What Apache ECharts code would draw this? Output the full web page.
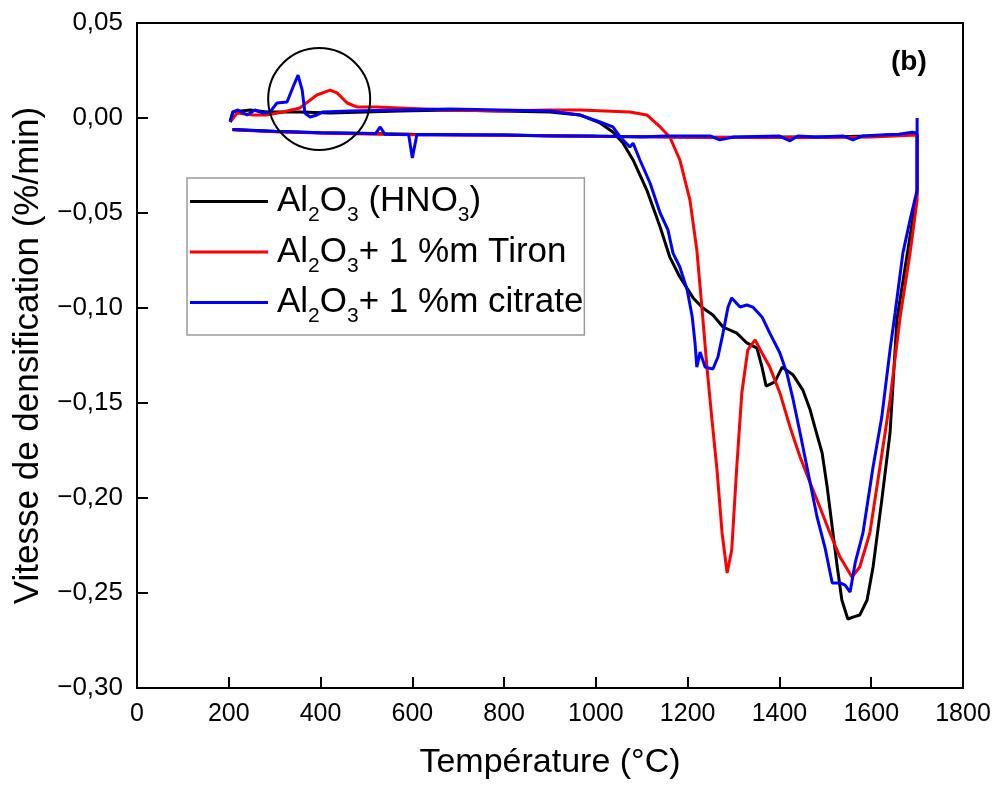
<!DOCTYPE html>
<html>
<head>
<meta charset="utf-8">
<script src="https://cdn.jsdelivr.net/npm/echarts@6/dist/echarts.min.js"></script>
<style>html,body{margin:0;padding:0;background:#fff;}#c{width:999px;height:787px;}</style>
</head>
<body>
<div id="c"></div>
<script>
// ---- Data ----
const xTicks = [0, 200, 400, 600, 800, 1000, 1200, 1400, 1600, 1800];
const yTicks = [0.05, 0.00, -0.05, -0.10, -0.15, -0.20, -0.25, -0.30];

const seriesNames = ['Al2O3 (HNO3)', 'Al2O3+ 1 %m Tiron', 'Al2O3+ 1 %m citrate'];

// Al2O3 (HNO3): heating 200 -> 1700 then cooling 1700 -> 200
const blackT = [203,209,246,283,355,421,573,682,791,900,965,1009,1037,1059,1081,1111,1140,1161,1183,1212,1233,1255,1277,1307,1329,1351,1362,1371,1390,1406,1430,1451,1467,1477,1493,1504,1515,1526,1536,1549,1562,1575,1591,1604,1623,1641,1656,1673,1684,1700,
  1700,1650,1600,1500,1400,1300,1200,1100,1000,900,800,700,600,500,400,300,208];
const blackV = [-0.0016,0.0032,0.0042,0.0032,0.0032,0.0026,0.0037,0.0042,0.0037,0.0032,0.0016,-0.0026,-0.0074,-0.0132,-0.0221,-0.0379,-0.0574,-0.0732,-0.0837,-0.0947,-0.1000,-0.1037,-0.1100,-0.1132,-0.1184,-0.1211,-0.1311,-0.1411,-0.1389,-0.1311,-0.1353,-0.1432,-0.1537,-0.1626,-0.1763,-0.1942,-0.2153,-0.2363,-0.2537,-0.2637,-0.2626,-0.2616,-0.2537,-0.2363,-0.2011,-0.1658,-0.1063,-0.0800,-0.0632,-0.0395,
  -0.0085,-0.0088,-0.0095,-0.0100,-0.0100,-0.0101,-0.0100,-0.0098,-0.0096,-0.0093,-0.0090,-0.0088,-0.0085,-0.0081,-0.0077,-0.0071,-0.0060];

// Al2O3 + 1 %m Tiron
const redT = [203,218,253,283,318,355,392,421,436,458,479,523,573,682,791,900,965,1074,1111,1140,1161,1183,1205,1220,1231,1242,1253,1264,1275,1286,1296,1307,1318,1331,1347,1362,1379,1401,1423,1445,1467,1488,1510,1532,1558,1575,1597,1619,1641,1663,1684,1700,
  1700,1650,1600,1500,1400,1300,1200,1100,1000,900,800,700,600,500,400,300,208];
const redV = [-0.0021,0.0026,0.0016,0.0016,0.0032,0.0053,0.0121,0.0147,0.0132,0.0079,0.0058,0.0058,0.0053,0.0042,0.0037,0.0042,0.0042,0.0032,0.0016,-0.0047,-0.0100,-0.0221,-0.0432,-0.0695,-0.0995,-0.1311,-0.1589,-0.1853,-0.2184,-0.2395,-0.2274,-0.1837,-0.1447,-0.1221,-0.1168,-0.1237,-0.1311,-0.1447,-0.1626,-0.1784,-0.1921,-0.2047,-0.2184,-0.2311,-0.2416,-0.2363,-0.2184,-0.1837,-0.1484,-0.1047,-0.0721,-0.0432,
  -0.0090,-0.0095,-0.0100,-0.0103,-0.0102,-0.0102,-0.0101,-0.0099,-0.0097,-0.0094,-0.0091,-0.0089,-0.0088,-0.0084,-0.0079,-0.0073,-0.0062];

// Al2O3 + 1 %m citrate
const blueT = [203,209,220,240,257,275,290,305,327,340,351,360,366,377,392,405,464,573,682,791,900,965,1009,1037,1053,1074,1081,1096,1118,1140,1157,1168,1183,1199,1210,1216,1220,1227,1238,1255,1266,1277,1288,1296,1314,1329,1342,1362,1379,1401,1416,1430,1445,1467,1482,1499,1515,1532,1543,1554,1565,1582,1604,1623,1641,1652,1669,1686,1700,
  1700,1700,1690,1660,1620,1580,1560,1540,1480,1440,1423,1400,1300,1270,1250,1150,1100,1000,900,800,700,610,600,592,540,530,520,400,300,208];
const blueV = [-0.0021,0.0032,0.0042,0.0016,0.0042,0.0026,0.0032,0.0079,0.0084,0.0163,0.0226,0.0147,0.0026,0.0005,0.0016,0.0032,0.0037,0.0042,0.0047,0.0042,0.0037,0.0016,-0.0021,-0.0047,-0.0100,-0.0153,-0.0132,-0.0221,-0.0342,-0.0500,-0.0589,-0.0711,-0.0784,-0.0905,-0.1047,-0.1184,-0.1311,-0.1232,-0.1311,-0.1321,-0.1258,-0.1132,-0.0995,-0.0947,-0.0995,-0.0984,-0.0995,-0.1047,-0.1132,-0.1237,-0.1342,-0.1484,-0.1658,-0.1921,-0.2100,-0.2258,-0.2447,-0.2447,-0.2458,-0.2495,-0.2342,-0.2184,-0.1837,-0.1574,-0.1221,-0.1026,-0.0711,-0.0521,-0.0379,
  0.0000,-0.0080,-0.0075,-0.0085,-0.0090,-0.0095,-0.0115,-0.0095,-0.0100,-0.0095,-0.0120,-0.0095,-0.0100,-0.0115,-0.0095,-0.0095,-0.0100,-0.0095,-0.0095,-0.0090,-0.0088,-0.0087,-0.0210,-0.0087,-0.0085,-0.0047,-0.0082,-0.0078,-0.0070,-0.0060];

const seriesColors = ['#000000', '#ff0000', '#0000ff'];
const circleCenter = [397, 0.010];  // annotation circle centre, in data units

// ---- Chart ----
const FONT = "'Liberation Sans', Arial, sans-serif";
const richNames = {
  'Al2O3 (HNO3)': '{f|Al}{s|2}{a|O}{s|3}{a| (HNO}{s|3}{a|)}',
  'Al2O3+ 1 %m Tiron': '{f|Al}{s|2}{a|O}{s|3}{a|+ 1 %m Tiron}',
  'Al2O3+ 1 %m citrate': '{f|Al}{s|2}{a|O}{s|3}{a|+ 1 %m citrate}'
};
function fmtY(v) {
  if (Math.abs(v) < 1e-9) return '0,00';
  return v.toFixed(2).replace('.', ',').replace('-', '\u2212');
}
function pairs(T, V) { return T.map((t, i) => [t, V[i]]); }
const dataSets = [pairs(blackT, blackV), pairs(redT, redV), pairs(blueT, blueV)];

const chart = echarts.init(document.getElementById('c'), null, {renderer: 'canvas'});
const option = {
  backgroundColor: '#ffffff',
  animation: false,
  textStyle: {fontFamily: FONT},
  grid: {left: 137, right: 36, top: 23, bottom: 99, show: true, borderColor: '#000', borderWidth: 2, backgroundColor: 'transparent'},
  xAxis: {
    type: 'value', min: xTicks[0], max: xTicks[xTicks.length - 1], interval: 200,
    name: 'Température (°C)', nameLocation: 'middle', nameGap: 58,
    nameTextStyle: {fontSize: 34, color: '#000', fontFamily: FONT},
    axisLine: {show: true, onZero: false, lineStyle: {color: '#000', width: 2}},
    axisTick: {show: true, inside: true, length: 11, lineStyle: {color: '#000', width: 2}},
    axisLabel: {fontSize: 25, color: '#000', margin: 14, fontFamily: FONT, formatter: v => String(v)},
    splitLine: {show: false}
  },
  yAxis: {
    type: 'value', min: yTicks[yTicks.length - 1], max: yTicks[0], interval: 0.05,
    name: 'Vitesse de densification (%/min)', nameLocation: 'middle', nameGap: 88,
    nameTextStyle: {fontSize: 35, color: '#000', fontFamily: FONT},
    axisLine: {show: true, onZero: false, lineStyle: {color: '#000', width: 2}},
    axisTick: {show: true, inside: true, length: 11, lineStyle: {color: '#000', width: 2}},
    axisLabel: {fontSize: 26, color: '#000', margin: 14, fontFamily: FONT, formatter: fmtY},
    splitLine: {show: false}
  },
  legend: {
    orient: 'vertical', left: 187, top: 178,
    icon: 'rect', itemWidth: 78, itemHeight: 3, itemGap: 8.5,
    padding: [6, 1, 8, 3],
    borderColor: '#9a9a9a', borderWidth: 1.5,
    data: seriesNames,
    formatter: name => richNames[name],
    textStyle: {
      fontFamily: FONT, color: '#000',
      rich: {
        f: {fontSize: 35, fontFamily: FONT, color: '#000', padding: [0, 0, 0, 4]},
        a: {fontSize: 35, fontFamily: FONT, color: '#000'},
        s: {fontSize: 21, fontFamily: FONT, color: '#000', padding: [28, 0, 0, 0]}
      }
    }
  },
  series: seriesNames.map((n, i) => ({
    name: n, type: 'line', data: dataSets[i], showSymbol: false, symbol: 'none',
    lineStyle: {color: seriesColors[i], width: 3}, itemStyle: {color: seriesColors[i]},
    z: 2 + i, clip: true
  }))
};
chart.setOption(option);
const cp = chart.convertToPixel({gridIndex: 0}, circleCenter);
chart.setOption({
  graphic: [
    {type: 'circle', shape: {cx: cp[0], cy: cp[1], r: 51}, style: {fill: 'none', stroke: '#000', lineWidth: 2}, z: 10},
    {type: 'text', left: 891, top: 48, style: {text: '(b)', font: "bold 28px 'Liberation Sans', Arial, sans-serif", fill: '#000'}, z: 10}
  ]
});
</script>
</body>
</html>
